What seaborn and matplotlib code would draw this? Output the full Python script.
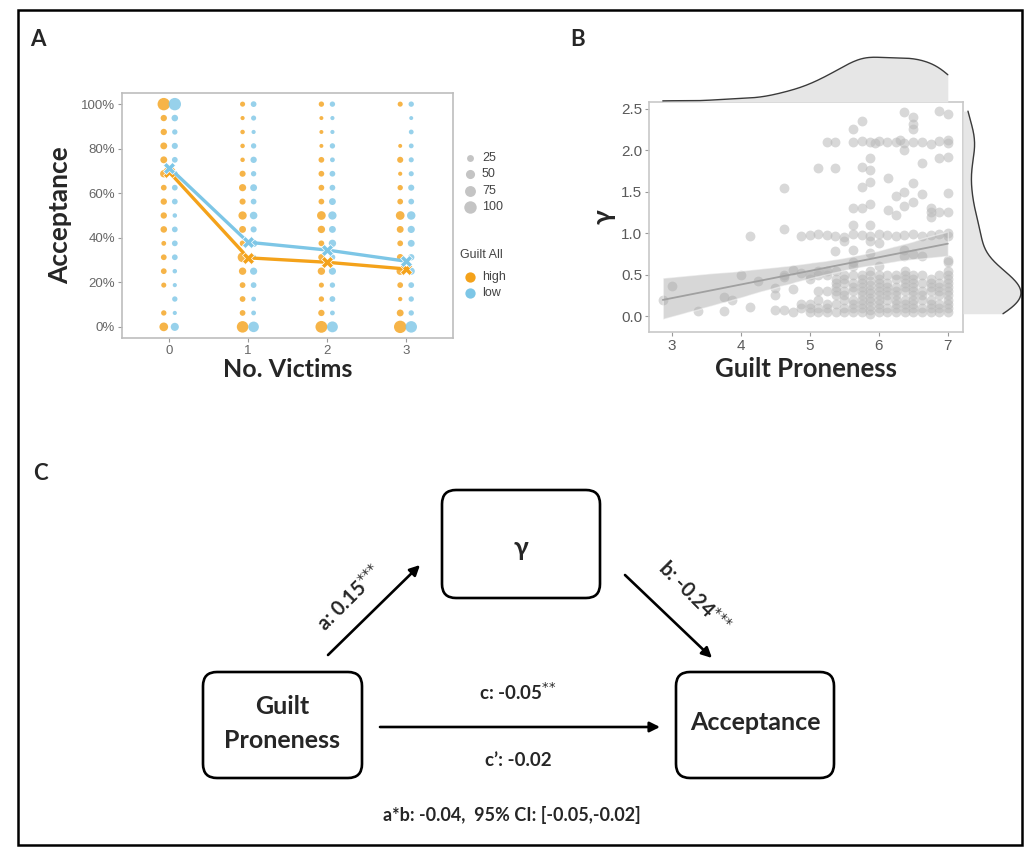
import numpy as np
import pandas as pd
import matplotlib
matplotlib.use("Agg")
import matplotlib.pyplot as plt
import seaborn as sns
from matplotlib.patches import FancyBboxPatch, Rectangle
from matplotlib.collections import PolyCollection

sns.set_theme(style="white")
plt.rcParams["font.family"] = ["Liberation Sans", "DejaVu Sans"]
BOLD = ["Lato", "DejaVu Sans"]

# ---------------- Panel A data ----------------
victims = [0, 1, 2, 3]
acc_levels = [0, 6.25, 12.5, 18.75, 25, 31.25, 37.5, 43.75, 50,
              56.25, 62.5, 68.75, 75, 81.25, 87.5, 93.75, 100]
# counts per acceptance level (bottom -> top), one list per number of victims
counts_high = [
    [45, 12, 0, 10, 15, 15, 8, 22, 20, 20, 15, 30, 25, 25, 20, 20, 100],
    [85, 15, 15, 15, 30, 60, 15, 25, 40, 18, 28, 18, 6, 6, 6, 4, 10],
    [90, 20, 12, 10, 30, 20, 15, 30, 45, 15, 15, 15, 15, 3, 3, 3, 12],
    [100, 25, 5, 15, 30, 22, 15, 25, 45, 15, 12, 4, 18, 3, 0, 0, 10],
]
counts_low = [
    [38, 4, 12, 4, 6, 15, 15, 15, 6, 15, 15, 15, 15, 18, 12, 22, 100],
    [70, 8, 8, 15, 28, 10, 30, 18, 32, 15, 25, 12, 20, 12, 4, 10, 15],
    [75, 8, 15, 12, 28, 15, 30, 25, 40, 25, 15, 15, 8, 12, 4, 4, 12],
    [85, 12, 12, 15, 28, 20, 25, 28, 42, 15, 18, 10, 10, 8, 8, 3, 12],
]
mean_high = [69.5, 31, 29, 26]
mean_low = [71.5, 38, 34.5, 29.5]
size_legend = [25, 50, 75, 100]
groups = ["high", "low"]

# ---------------- Panel B data ----------------
guilt_sparse = [2.87, 3.0, 3.38, 3.75, 3.87, 3.75, 4.0, 4.13, 4.13, 4.25, 4.5, 4.5, 4.5,
                4.62, 4.62, 4.62, 4.62, 4.62, 4.75, 4.75, 4.75, 4.87, 4.87, 4.87, 4.87,
                5.12, 5.37, 5.25, 5.37, 5.63, 5.75, 5.75, 5.87, 5.87, 6.37, 6.37, 6.5, 6.5,
                6.5, 6.87, 7.0, 6.87, 7.0, 6.62, 5.75, 5.87, 6.13, 6.5, 6.37, 6.25, 6.62,
                7.0, 5.63, 5.75, 5.87, 6.13, 6.25, 6.37, 6.5, 6.75, 6.75, 6.75, 6.87, 7.0,
                5.63, 5.87, 5.5, 5.37, 5.63, 5.87, 6.0, 6.37, 6.62, 7.0, 5.63, 5.87, 6.37, 6.5]
gamma_sparse = [0.20, 0.36, 0.06, 0.23, 0.20, 0.06, 0.50, 0.97, 0.11, 0.43, 0.34, 0.25, 0.08,
                0.07, 1.55, 1.05, 0.50, 0.47, 0.56, 0.33, 0.05, 0.97, 0.52, 0.15, 0.10,
                1.78, 1.78, 2.10, 2.10, 2.25, 2.35, 1.80, 1.76, 1.90, 2.00, 2.46, 2.40, 2.32,
                2.26, 2.47, 2.43, 1.90, 1.92, 1.85, 1.56, 1.62, 1.66, 1.60, 1.50, 1.45, 1.47,
                1.48, 1.30, 1.30, 1.35, 1.28, 1.22, 1.33, 1.38, 1.30, 1.25, 1.20, 1.25, 1.26,
                1.10, 1.10, 0.90, 0.78, 0.80, 0.76, 0.88, 0.80, 0.73, 0.68, 0.65, 0.90, 0.72, 0.75]
guilt_row21 = [5.62, 5.75, 5.87, 5.95, 6.0, 6.12, 6.25, 6.3, 6.37, 6.5, 6.62, 6.75, 6.87, 7.0, 7.0]
gamma_row21 = [2.10, 2.11, 2.10, 2.09, 2.11, 2.10, 2.10, 2.12, 2.09, 2.10, 2.10, 2.08, 2.11, 2.12, 2.09]
guilt_row10 = [5.0, 5.12, 5.25, 5.37, 5.5, 5.62, 5.75, 5.87, 6.0, 6.12, 6.25, 6.37, 6.5,
               6.62, 6.75, 6.87, 7.0, 7.0]
gamma_row10 = [0.98, 0.99, 0.98, 0.97, 0.96, 0.99, 0.98, 0.97, 0.99, 0.98, 0.97, 0.98, 0.99,
               0.97, 0.98, 0.99, 0.97, 1.00]
dense_guilt_levels = [5.0, 5.125, 5.25, 5.375, 5.5, 5.625, 5.75, 5.875, 6.0, 6.125,
                      6.25, 6.375, 6.5, 6.625, 6.75, 6.875, 7.0]
dense_gamma = [
    [0.05, 0.10, 0.15, 0.45, 0.50],
    [0.05, 0.10, 0.20, 0.30, 0.50, 0.55],
    [0.05, 0.10, 0.15, 0.30, 0.50, 0.55],
    [0.05, 0.15, 0.25, 0.30, 0.35, 0.40, 0.45, 0.55],
    [0.05, 0.10, 0.20, 0.25, 0.30, 0.40, 0.45, 0.50],
    [0.05, 0.10, 0.15, 0.20, 0.30, 0.35, 0.40, 0.50, 0.60],
    [0.05, 0.10, 0.15, 0.20, 0.25, 0.30, 0.35, 0.40, 0.45, 0.50],
    [0.03, 0.08, 0.12, 0.18, 0.22, 0.28, 0.32, 0.38, 0.42, 0.50, 0.55],
    [0.05, 0.10, 0.15, 0.20, 0.25, 0.30, 0.35, 0.40, 0.45, 0.50, 0.60],
    [0.05, 0.10, 0.20, 0.25, 0.30, 0.35, 0.40, 0.50],
    [0.05, 0.10, 0.15, 0.20, 0.25, 0.30, 0.35, 0.45, 0.50],
    [0.05, 0.10, 0.15, 0.20, 0.30, 0.35, 0.40, 0.45, 0.50, 0.55],
    [0.05, 0.10, 0.15, 0.20, 0.25, 0.30, 0.35, 0.40, 0.45, 0.50],
    [0.05, 0.10, 0.20, 0.25, 0.30, 0.40, 0.50],
    [0.05, 0.10, 0.15, 0.20, 0.30, 0.35, 0.40, 0.45],
    [0.05, 0.10, 0.15, 0.25, 0.30, 0.35, 0.40, 0.50],
    [0.05, 0.10, 0.15, 0.20, 0.25, 0.30, 0.35, 0.40, 0.45, 0.50, 0.55, 0.65],
]

# ---------------- Panel C text ----------------
box_gamma = "γ"
box_guilt = ["Guilt", "Proneness"]
box_accept = "Acceptance"
lab_a = r"a: 0.15$^{{*}{*}{*}}$"
lab_b = r"b: -0.24$^{{*}{*}{*}}$"
lab_c = r"c: -0.05$^{{*}{*}}$"
lab_cp = "c’: -0.02"
lab_ab = "a*b: -0.04,  95% CI: [-0.05,-0.02]"

# ---------------- figure ----------------
W, H = 1027, 847
fig = plt.figure(figsize=(W / 100, H / 100), dpi=100)
fig.patch.set_facecolor("white")


def ax_px(l, t, r, b):
    return fig.add_axes([l / W, 1 - b / H, (r - l) / W, (b - t) / H])


pal = {"high": "#F4A21A", "low": "#7DC6E6"}
S_MIN, S_MAX = 6, 80

# Panel A
rows = []
for grp, counts, off in [("high", counts_high, -0.07), ("low", counts_low, 0.07)]:
    for v, col in zip(victims, counts):
        for lvl, n in zip(acc_levels, col):
            if n > 0:
                rows.append(dict(xpos=v + off, acc=lvl, n=n, guilt=grp))
dfA = pd.DataFrame(rows)

axA = ax_px(122, 93, 453, 338)
sns.scatterplot(data=dfA, x="xpos", y="acc", hue="guilt", size="n", sizes=(S_MIN, S_MAX),
                size_norm=(0, 100), palette=pal, alpha=0.8, linewidth=0,
                legend=False, ax=axA)
dfM = pd.DataFrame({"victims": victims * 2, "acc": mean_high + mean_low,
                    "guilt": ["high"] * 4 + ["low"] * 4})
sns.lineplot(data=dfM, x="victims", y="acc", hue="guilt", palette=pal, linewidth=2.4,
             marker="X", markersize=8, markeredgewidth=0.5, legend=False, ax=axA)
axA.set_xlim(-0.6, 3.6)
axA.set_ylim(-5, 105)
axA.set_xticks(victims)
axA.set_yticks([0, 20, 40, 60, 80, 100])
axA.set_yticklabels(["0%", "20%", "40%", "60%", "80%", "100%"])
axA.tick_params(axis="both", length=3, width=0.8, color="#9a9a9a", labelsize=9.5,
                labelcolor="#666666", pad=2, bottom=True, left=True)
for s in axA.spines.values():
    s.set_color("#bdbdbd")
    s.set_linewidth(1.2)
axA.set_xlabel("No. Victims", fontsize=18, fontweight="bold", family=BOLD, labelpad=1)
axA.set_ylabel("Acceptance", fontsize=19, fontweight="bold", family=BOLD, labelpad=6)

# Panel B
guilt = list(guilt_sparse) + guilt_row21 + guilt_row10
gamma = list(gamma_sparse) + gamma_row21 + gamma_row10
for g, col in zip(dense_guilt_levels, dense_gamma):
    guilt += [g] * len(col)
    gamma += col

axB = ax_px(649, 102, 963, 332)
sns.regplot(x=guilt, y=gamma, ax=axB, color="#a5a5a5", seed=1, truncate=True,
            scatter_kws=dict(s=50, color="#b8b8b8", alpha=0.55, linewidths=0),
            line_kws=dict(color="#a0a0a0", lw=1.3))
for coll in axB.collections:
    if isinstance(coll, PolyCollection):
        coll.set_facecolor("#a8a8a8")
        coll.set_alpha(0.45)
axB.set_xlim(2.67, 7.22)
axB.set_ylim(-0.19, 2.58)
axB.set_xticks([3, 4, 5, 6, 7])
axB.set_yticks([0, 0.5, 1.0, 1.5, 2.0, 2.5])
axB.set_yticklabels(["0.0", "0.5", "1.0", "1.5", "2.0", "2.5"])
axB.tick_params(axis="both", length=3, width=0.8, color="#9a9a9a", labelsize=11,
                labelcolor="#5a5a5a", pad=2, bottom=True, left=True)
for s in axB.spines.values():
    s.set_color("#c8c8c8")
    s.set_linewidth(1.2)
axB.set_xlabel("Guilt Proneness", fontsize=18.5, fontweight="bold", family=BOLD, labelpad=3)
axB.set_ylabel("γ", fontsize=19, fontweight="bold", family=BOLD, labelpad=4)

axT = ax_px(649, 55, 963, 102)
sns.kdeplot(x=guilt, ax=axT, cut=0, fill=True, color="#e6e6e6", alpha=1, linewidth=0)
sns.kdeplot(x=guilt, ax=axT, cut=0, color="#3a3a3a", linewidth=1.0)
axT.set_xlim(axB.get_xlim())
axT.set_ylim(0, None)
axT.axis("off")

axR = ax_px(963, 102, 1022, 332)
sns.kdeplot(y=gamma, ax=axR, cut=0, fill=True, color="#e6e6e6", alpha=1, linewidth=0)
sns.kdeplot(y=gamma, ax=axR, cut=0, color="#3a3a3a", linewidth=1.0)
axR.set_ylim(axB.get_ylim())
axR.set_xlim(0, axR.get_xlim()[1] * 0.97)
axR.axis("off")

# Overlay (pixel coordinates) for legend of A, panel C, labels and frame
ov = fig.add_axes([0, 0, 1, 1])
ov.set_xlim(0, W)
ov.set_ylim(H, 0)
ov.axis("off")

# Legend of panel A
for i, v in enumerate(size_legend):
    yy = 158 + i * 16.3
    ov.scatter([470], [yy], s=S_MIN + (S_MAX - S_MIN) * v / 100, color="#c4c4c4", linewidths=0)
    ov.text(482, yy, str(v), fontsize=9, color="#444444", va="center", ha="left")
ov.text(460, 255, "Guilt All", fontsize=9, color="#444444", va="center", ha="left")
for i, g in enumerate(groups):
    yy = 277 + i * 16
    ov.scatter([470], [yy], s=55, color=pal[g], linewidths=0)
    ov.text(482, yy, g, fontsize=9, color="#444444", va="center", ha="left")

# Panel labels
for lab, (x, y) in zip(["A", "B", "C"], [(38, 40), (578, 40), (40, 473)]):
    ov.text(x, y, lab, fontsize=16, fontweight="bold", family=BOLD, ha="center", va="center")

# Panel C boxes


def rbox(x0, y0, x1, y1):
    ov.add_patch(FancyBboxPatch((x0, y0), x1 - x0, y1 - y0,
                                boxstyle="round,pad=0,rounding_size=14",
                                lw=1.9, ec="black", fc="white"))


rbox(442, 490, 600, 598)
rbox(203, 672, 362, 778)
rbox(676, 672, 834, 778)
ov.text(521, 548, box_gamma, fontsize=19, fontweight="bold", family=BOLD, ha="center", va="center")
ov.text(282, 707, box_guilt[0], fontsize=18, fontweight="bold", family=BOLD, ha="center", va="center")
ov.text(282, 741, box_guilt[1], fontsize=18, fontweight="bold", family=BOLD, ha="center", va="center")
ov.text(755, 722, box_accept, fontsize=18, fontweight="bold", family=BOLD, ha="center", va="center")

arw = dict(arrowstyle="-|>", color="black", lw=1.9, mutation_scale=15, shrinkA=0, shrinkB=0)
ov.annotate("", xy=(420, 565), xytext=(328, 655), arrowprops=arw)
ov.annotate("", xy=(712, 658), xytext=(625, 575), arrowprops=arw)
ov.annotate("", xy=(660, 727), xytext=(380, 727), arrowprops=arw)

ov.text(350, 598, lab_a, fontsize=14.5, fontweight="bold", family=BOLD, rotation=45,
        rotation_mode="anchor", ha="center", va="center")
ov.text(694, 597, lab_b, fontsize=14.5, fontweight="bold", family=BOLD, rotation=-45,
        rotation_mode="anchor", ha="center", va="center")
ov.text(518, 692, lab_c, fontsize=13.5, fontweight="bold", family=BOLD, ha="center", va="center")
ov.text(518, 760, lab_cp, fontsize=13.5, fontweight="bold", family=BOLD, ha="center", va="center")
ov.text(512, 815, lab_ab, fontsize=13, fontweight="bold", family=BOLD, ha="center", va="center")

# Frame
ov.add_patch(Rectangle((18, 10), 1004, 835, fill=False, ec="black", lw=1.8))

fig.savefig("out.png", dpi=100, facecolor="white")
